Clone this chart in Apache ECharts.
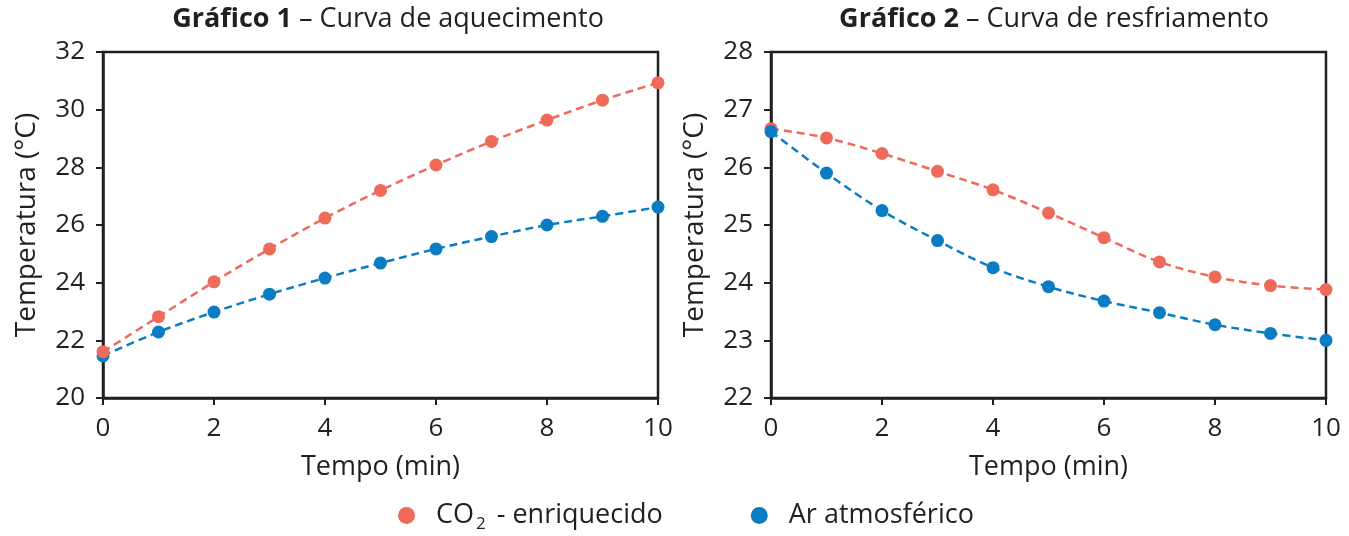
<!DOCTYPE html>
<html>
<head>
<meta charset="utf-8">
<script src="https://cdn.jsdelivr.net/npm/echarts@6/dist/echarts.min.js"></script>
<style>
html,body{margin:0;padding:0;background:#fff;}
#main{width:1349px;height:536px;}
</style>
</head>
<body>
<div id="main"></div>
<script>
// tempo (min)
var tempo = [0, 1, 2, 3, 4, 5, 6, 7, 8, 9, 10];
// Gráfico 1 - aquecimento
var aqCO2 = [21.6, 22.82, 24.03, 25.17, 26.24, 27.2, 28.08, 28.9, 29.64, 30.33, 30.93];
var aqAr  = [21.46, 22.29, 22.98, 23.6, 24.16, 24.68, 25.17, 25.6, 26.0, 26.3, 26.62];
// Gráfico 2 - resfriamento
var reCO2 = [26.67, 26.51, 26.24, 25.93, 25.61, 25.21, 24.78, 24.36, 24.1, 23.95, 23.88];
var reAr  = [26.62, 25.9, 25.25, 24.73, 24.26, 23.93, 23.68, 23.48, 23.27, 23.12, 23.0];

var corCO2 = '#EE6A5A';
var corAr = '#0A7CC3';
var preto = '#231F20';
var fonte = '"Open Sans", "Noto Sans", sans-serif';

function pares(ys){
    var out = [];
    for(var i = 0; i < tempo.length; i++){
        out.push([tempo[i], ys[i]]);
    }
    return out;
}

function eixoX(idx){
    return {
        type:'value', gridIndex:idx, min:0, max:10, interval:2,
        name:'Tempo (min)', nameLocation:'middle', nameGap:56,
        nameTextStyle:{color:preto, fontSize:27, fontFamily:fonte},
        axisLine:{show:true, lineStyle:{color:preto, width:2.5}},
        axisTick:{show:true, length:7, lineStyle:{color:preto, width:2}},
        axisLabel:{color:preto, fontSize:26, fontFamily:fonte, margin:18},
        splitLine:{show:false}
    };
}
function eixoY(idx, mn, mx, itv){
    return {
        type:'value', gridIndex:idx, min:mn, max:mx, interval:itv,
        name:'Temperatura (°C)', nameLocation:'middle', nameGap:62, nameRotate:90,
        nameTextStyle:{color:preto, fontSize:28, fontFamily:fonte},
        axisLine:{show:true, lineStyle:{color:preto, width:2.5}},
        axisTick:{show:true, length:7, lineStyle:{color:preto, width:2}},
        axisLabel:{color:preto, fontSize:26, fontFamily:fonte, margin:18},
        splitLine:{show:false}
    };
}
function serie(nome, idx, ys, cor, z){
    return {
        name:nome, type:'line', xAxisIndex:idx, yAxisIndex:idx,
        data:pares(ys), smooth:0.35, z:z,
        symbol:'circle', symbolSize:13,
        itemStyle:{color:cor},
        lineStyle:{color:cor, width:2.5, type:[8,5]}
    };
}

var chart = echarts.init(document.getElementById('main'));
var option = {
    backgroundColor:'#fff',
    animation:false,
    title:[{
        text:'{b|Gráfico 1} – Curva de aquecimento',
        left:383, top:1, textAlign:'center',
        textStyle:{color:preto, fontSize:27, fontWeight:'normal', fontFamily:fonte,
            rich:{b:{fontWeight:'bold', fontSize:27, color:preto, fontFamily:fonte}}}
    },{
        text:'{b|Gráfico 2} – Curva de resfriamento',
        left:1049, top:1, textAlign:'center',
        textStyle:{color:preto, fontSize:27, fontWeight:'normal', fontFamily:fonte,
            rich:{b:{fontWeight:'bold', fontSize:27, color:preto, fontFamily:fonte}}}
    }],
    legend:{
        data:['CO2 - enriquecido','Ar atmosférico'],
        top:497, left:393, itemGap:88,
        icon:'circle', itemWidth:17, itemHeight:17,
        formatter:function(name){
            if(name == 'CO2 - enriquecido') return 'CO{s|2} - enriquecido';
            return name;
        },
        textStyle:{color:preto, fontSize:27, fontFamily:fonte, padding:[0,0,0,16],
            rich:{s:{fontSize:17, fontFamily:fonte, color:preto, verticalAlign:'bottom', padding:[17,4,0,2]}}}
    },
    grid:[
        {left:103, right:691, top:52, height:346, show:true, borderColor:preto, borderWidth:2.5, backgroundColor:'transparent'},
        {left:771, right:23, top:52, height:346, show:true, borderColor:preto, borderWidth:2.5, backgroundColor:'transparent'}
    ],
    xAxis:[eixoX(0), eixoX(1)],
    yAxis:[eixoY(0, 20, 32, 2), eixoY(1, 22, 28, 1)],
    series:[
        serie('Ar atmosférico', 0, aqAr, corAr, 2),
        serie('CO2 - enriquecido', 0, aqCO2, corCO2, 3),
        serie('CO2 - enriquecido', 1, reCO2, corCO2, 2),
        serie('Ar atmosférico', 1, reAr, corAr, 3)
    ]
};
chart.setOption(option);
</script>
</body>
</html>
